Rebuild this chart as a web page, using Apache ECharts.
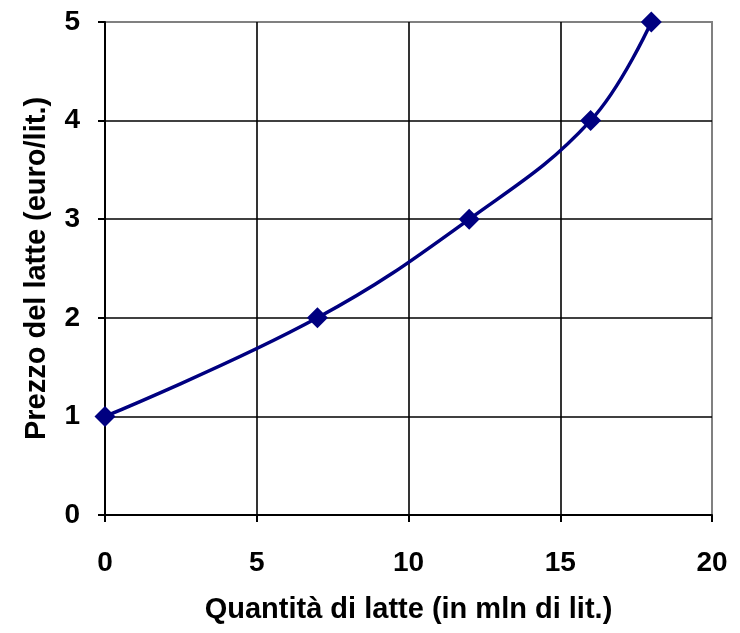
<!DOCTYPE html>
<html><head><meta charset="utf-8">
<script src="https://cdn.jsdelivr.net/npm/echarts@6/dist/echarts.min.js"></script>
<style>html,body{margin:0;padding:0;background:#fff}#c{width:740px;height:633px}</style>
</head><body><div id="c"></div>
<script>
const quantity = [0, 7, 12, 16, 18];
const price = [1, 2, 3, 4, 5];
const xTicks = [0, 5, 10, 15, 20];
const yTicks = [0, 1, 2, 3, 4, 5];
const xTitle = 'Quantità di latte (in mln di lit.)';
const yTitle = 'Prezzo del latte (euro/lit.)';

const chart = echarts.init(document.getElementById('c'));
const font = '"Liberation Sans", Arial, sans-serif';
const axisCommon = {
  axisLine: {show: true, lineStyle: {color: '#000', width: 2}},
  axisTick: {show: true, length: 7, lineStyle: {color: '#000', width: 2}},
  splitLine: {show: true, showMaxLine: false, lineStyle: {color: '#000', width: 1.6}}
};
chart.setOption({
  animation: false,
  grid: {left: 105, right: 28, top: 22, bottom: 118, show: true, borderColor: '#808080', borderWidth: 2, containLabel: false},
  xAxis: Object.assign({
    type: 'value', min: xTicks[0], max: xTicks[xTicks.length-1], interval: 5,
    name: xTitle, nameLocation: 'middle', nameGap: 80,
    nameTextStyle: {fontFamily: font, fontWeight: 'bold', fontSize: 29, color: '#000'},
    axisLabel: {fontFamily: font, fontWeight: 'bold', fontSize: 28, color: '#000', margin: 34}
  }, axisCommon),
  yAxis: Object.assign({
    type: 'value', min: yTicks[0], max: yTicks[yTicks.length-1], interval: 1,
    name: yTitle, nameLocation: 'middle', nameGap: 54, nameRotate: 90,
    nameTextStyle: {fontFamily: font, fontWeight: 'bold', fontSize: 29, color: '#000'},
    axisLabel: {fontFamily: font, fontWeight: 'bold', fontSize: 28, color: '#000', margin: 25}
  }, axisCommon),
  series: [{
    type: 'line',
    data: quantity.map((q, i) => [q, price[i]]),
    smooth: 0.4,
    symbol: 'diamond', symbolSize: 21,
    itemStyle: {color: '#000080'},
    lineStyle: {color: '#000080', width: 3.5}
  }]
});
</script></body></html>
